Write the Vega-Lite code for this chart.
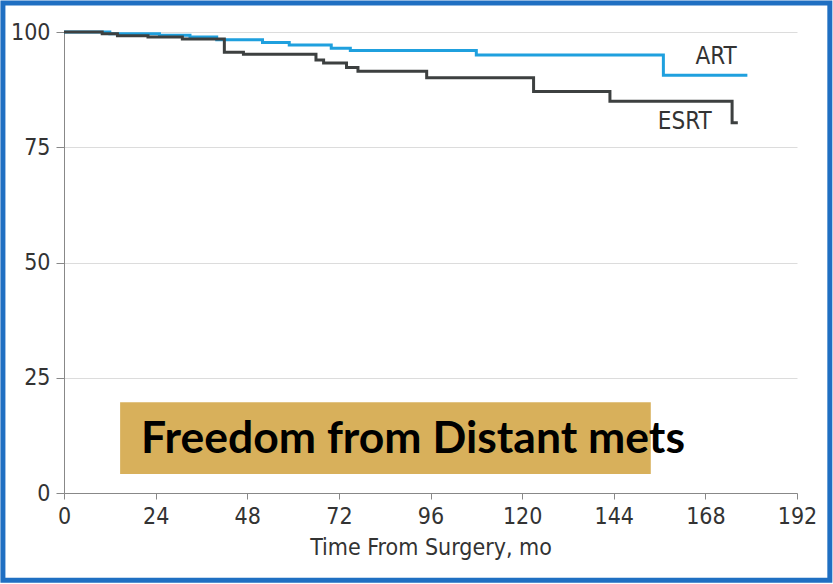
{
  "$schema": "https://vega.github.io/schema/vega-lite/v6.json",
  "width": 733,
  "height": 461,
  "autosize": {"type": "none"},
  "padding": {"left": 64, "top": 32, "right": 36, "bottom": 91},
  "background": "white",
  "config": {
    "view": {"stroke": null},
    "axis": {"labelFont": "DejaVu Sans Condensed, Liberation Sans", "titleFont": "DejaVu Sans Condensed, Liberation Sans", "labelColor": "#333", "titleColor": "#333", "domainColor": "#888", "tickColor": "#888", "gridColor": "#dcdcdc"}
  },
  "datasets": {
    "curves": [
      {"series": "ART", "month": 0, "surv": 100},
      {"series": "ART", "month": 12, "surv": 99.6},
      {"series": "ART", "month": 25, "surv": 99.3},
      {"series": "ART", "month": 33, "surv": 98.9},
      {"series": "ART", "month": 40, "surv": 98.3},
      {"series": "ART", "month": 52, "surv": 97.7},
      {"series": "ART", "month": 59, "surv": 97.2},
      {"series": "ART", "month": 70, "surv": 96.5},
      {"series": "ART", "month": 75, "surv": 96.0},
      {"series": "ART", "month": 108, "surv": 95.0},
      {"series": "ART", "month": 157, "surv": 90.6},
      {"series": "ART", "month": 179, "surv": 90.6},
      {"series": "ESRT", "month": 0, "surv": 100},
      {"series": "ESRT", "month": 10, "surv": 99.6},
      {"series": "ESRT", "month": 14, "surv": 99.2},
      {"series": "ESRT", "month": 22, "surv": 98.9},
      {"series": "ESRT", "month": 31, "surv": 98.5},
      {"series": "ESRT", "month": 42, "surv": 95.6},
      {"series": "ESRT", "month": 47, "surv": 95.2},
      {"series": "ESRT", "month": 66, "surv": 93.9},
      {"series": "ESRT", "month": 68, "surv": 93.3},
      {"series": "ESRT", "month": 74, "surv": 92.3},
      {"series": "ESRT", "month": 77, "surv": 91.5},
      {"series": "ESRT", "month": 95, "surv": 90.1},
      {"series": "ESRT", "month": 123, "surv": 87.1},
      {"series": "ESRT", "month": 143, "surv": 85.0},
      {"series": "ESRT", "month": 175, "surv": 80.3},
      {"series": "ESRT", "month": 176.5, "surv": 80.3}
    ],
    "labels": [
      {"label": "ART", "month": 170.8, "surv": 94.6},
      {"label": "ESRT", "month": 162.6, "surv": 80.4}
    ],
    "note": [
      {"text": "Freedom from Distant mets", "x0": 14.7, "x1": 153.7, "y0": 4.1, "y1": 19.7, "tx": 20.2, "ty": 8.7}
    ]
  },
  "layer": [
    {
      "data": {"name": "note"},
      "mark": {"type": "rect", "color": "#d8b05b"},
      "encoding": {
        "x": {"field": "x0", "type": "quantitative", "scale": {"domain": [0, 192], "nice": false}, "axis": {"values": [0, 24, 48, 72, 96, 120, 144, 168, 192], "title": "Time From Surgery, mo", "labelFontSize": 23, "titleFontSize": 23, "titleFontWeight": "normal", "tickSize": 6, "labelPadding": 6, "titlePadding": 8, "grid": false, "labelFlush": false}},
        "x2": {"field": "x1"},
        "y": {"field": "y0", "type": "quantitative", "scale": {"domain": [0, 100], "nice": false}, "axis": {"values": [0, 25, 50, 75, 100], "title": null, "labelFontSize": 23, "tickSize": 8, "labelPadding": 6, "grid": true}},
        "y2": {"field": "y1"}
      }
    },
    {
      "data": {"name": "curves"},
      "mark": {"type": "line", "interpolate": "step-after", "strokeWidth": 3},
      "encoding": {
        "x": {"field": "month", "type": "quantitative"},
        "y": {"field": "surv", "type": "quantitative"},
        "color": {"field": "series", "type": "nominal", "scale": {"domain": ["ART", "ESRT"], "range": ["#1fa0de", "#3d4040"]}, "legend": null}
      }
    },
    {
      "data": {"name": "labels"},
      "mark": {"type": "text", "font": "DejaVu Sans Condensed, Liberation Sans", "fontSize": 24, "color": "#333", "align": "center", "baseline": "middle"},
      "encoding": {
        "x": {"field": "month", "type": "quantitative"},
        "y": {"field": "surv", "type": "quantitative"},
        "text": {"field": "label"}
      }
    },
    {
      "data": {"name": "note"},
      "mark": {"type": "text", "font": "Lato", "fontWeight": "bold", "fontSize": 44.5, "color": "#000", "align": "left", "baseline": "alphabetic"},
      "encoding": {
        "x": {"field": "tx", "type": "quantitative"},
        "y": {"field": "ty", "type": "quantitative"},
        "text": {"field": "text"}
      }
    },
    {
      "data": {"values": [{}]},
      "mark": {"type": "rect", "fill": null, "stroke": "#1f6fc2", "strokeWidth": 5, "clip": false},
      "encoding": {
        "x": {"datum": -16.0},
        "x2": {"datum": 200.6},
        "y": {"datum": 106.3},
        "y2": {"datum": -18.9}
      }
    }
  ]
}
